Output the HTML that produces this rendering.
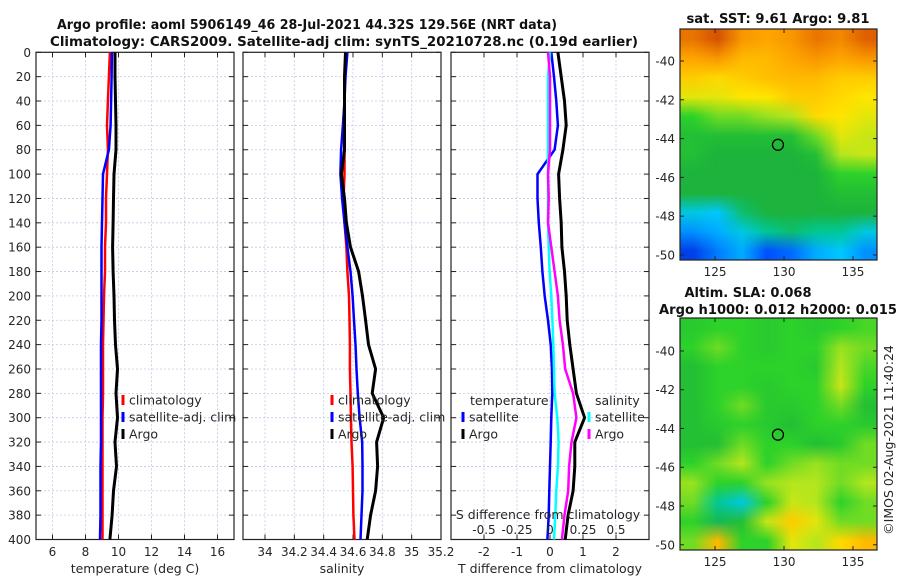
<!DOCTYPE html>
<html><head><meta charset="utf-8">
<style>
body{margin:0;background:#fff;width:900px;height:580px;overflow:hidden;position:relative;font-family:"DejaVu Sans","Liberation Sans",sans-serif;}
svg{position:absolute;left:0;top:0}
canvas{position:absolute;image-rendering:auto}
</style></head>
<body>
<canvas id="sst" width="8" height="12" style="left:680px;top:29px;width:197px;height:231px"></canvas>
<canvas id="sla" width="8" height="12" style="left:680px;top:318px;width:197px;height:232px"></canvas>
<svg id="chart" width="900" height="580"></svg>
<script>
const depths=[0,20,40,60,80,100,120,140,160,180,200,220,240,260,280,300,320,340,360,380,400];
const tempClim=[9.48,9.42,9.36,9.30,9.36,9.30,9.24,9.24,9.18,9.18,9.12,9.09,9.06,9.06,9.06,9.03,9.03,9.03,9.03,9.03,9.03];
const tempSat=[9.60,9.58,9.55,9.52,9.42,9.06,9.03,9.00,8.97,8.97,8.97,8.97,8.94,8.94,8.94,8.94,8.94,8.91,8.91,8.91,8.88];
const tempArgo=[9.79,9.79,9.82,9.85,9.85,9.73,9.70,9.67,9.64,9.67,9.73,9.76,9.82,9.94,9.85,9.94,9.79,9.88,9.70,9.61,9.48];
const salClim=[34.560,34.542,34.542,34.542,34.542,34.542,34.535,34.542,34.555,34.562,34.573,34.576,34.579,34.579,34.583,34.586,34.590,34.597,34.600,34.603,34.610];
const salSat=[34.562,34.549,34.542,34.531,34.519,34.514,34.526,34.542,34.562,34.583,34.597,34.607,34.617,34.624,34.633,34.645,34.663,34.665,34.665,34.658,34.651];
const salArgo=[34.549,34.542,34.542,34.542,34.542,34.521,34.542,34.555,34.583,34.638,34.665,34.686,34.706,34.754,34.731,34.809,34.761,34.768,34.754,34.720,34.697];
const tDiffSat=[0.04,0.12,0.19,0.24,0.14,-0.38,-0.38,-0.34,-0.28,-0.23,-0.16,-0.06,0.02,0.06,0.07,0.04,0.02,0.0,-0.02,-0.04,-0.08];
const tDiffArgo=[0.24,0.34,0.44,0.49,0.39,0.26,0.29,0.34,0.36,0.44,0.49,0.52,0.60,0.70,0.80,1.05,0.75,0.75,0.70,0.55,0.46];
const sDiffSat=[0,-0.015,-0.015,-0.015,-0.015,-0.015,-0.015,-0.015,-0.01,-0.003,0.01,0.018,0.025,0.03,0.035,0.055,0.065,0.06,0.048,0.04,0.03];
const sDiffArgo=[-0.015,0,0,0,0,-0.015,-0.01,-0.015,0.01,0.035,0.06,0.073,0.098,0.115,0.175,0.2,0.163,0.145,0.138,0.11,0.09];
const depthTicks=[0,20,40,60,80,100,120,140,160,180,200,220,240,260,280,300,320,340,360,380,400];
const tempTicks=[6,8,10,12,14,16];
const salTicks=[34,34.2,34.4,34.6,34.8,35,35.2];
const tDiffTicks=[-2,-1,0,1,2];
const sDiffTicks=[-0.5,-0.25,0,0.25,0.5];
const lonTicks=[125,130,135];
const latTicks=[-40,-42,-44,-46,-48,-50];
const argoLon=129.56, argoLat=-44.32;
const sstGrid=[
[0.85,0.9,0.8,0.78,0.8,0.85,0.82,0.88],
[0.78,0.8,0.75,0.75,0.78,0.8,0.78,0.8],
[0.72,0.7,0.72,0.74,0.75,0.75,0.72,0.72],
[0.65,0.65,0.68,0.68,0.72,0.72,0.7,0.68],
[0.5,0.55,0.55,0.58,0.6,0.7,0.68,0.65],
[0.45,0.45,0.45,0.45,0.45,0.55,0.65,0.62],
[0.45,0.42,0.42,0.42,0.42,0.45,0.6,0.62],
[0.42,0.42,0.42,0.42,0.42,0.42,0.5,0.5],
[0.42,0.42,0.42,0.42,0.42,0.42,0.45,0.45],
[0.3,0.28,0.38,0.42,0.42,0.42,0.42,0.42],
[0.22,0.25,0.3,0.35,0.38,0.35,0.35,0.3],
[0.12,0.2,0.25,0.15,0.18,0.25,0.28,0.22]];
const slaGrid=[
[0.48,0.5,0.5,0.48,0.5,0.48,0.5,0.52],
[0.5,0.55,0.5,0.48,0.5,0.5,0.58,0.55],
[0.45,0.5,0.5,0.5,0.5,0.48,0.6,0.52],
[0.45,0.5,0.5,0.48,0.5,0.5,0.62,0.5],
[0.45,0.5,0.55,0.48,0.48,0.5,0.55,0.45],
[0.45,0.48,0.5,0.48,0.45,0.5,0.5,0.48],
[0.45,0.45,0.55,0.5,0.5,0.45,0.48,0.55],
[0.5,0.55,0.6,0.5,0.55,0.58,0.55,0.55],
[0.58,0.5,0.5,0.58,0.6,0.6,0.55,0.6],
[0.55,0.35,0.3,0.5,0.62,0.6,0.5,0.55],
[0.5,0.4,0.45,0.62,0.72,0.65,0.55,0.55],
[0.55,0.75,0.5,0.5,0.65,0.6,0.7,0.75]];

const NS="http://www.w3.org/2000/svg";
const svg=document.getElementById('chart');
function el(tag,attrs,parent,text){const e=document.createElementNS(NS,tag);for(const k in attrs)e.setAttribute(k,attrs[k]);if(text!==undefined)e.textContent=text;(parent||svg).appendChild(e);return e;}
const Y0=52.3,Y1=539.5;
const yD=d=>Y0+(d/400)*(Y1-Y0);
function lin(d0,d1,r0,r1){return v=>r0+(v-d0)/(d1-d0)*(r1-r0);}
const panels=[
 {x0:36,x1:234,dom:[5,17],ticks:tempTicks,name:'temperature-panel',label:'temperature (deg C)'},
 {x0:243,x1:441,dom:[33.85,35.2],ticks:salTicks,name:'salinity-panel',label:'salinity'},
 {x0:451,x1:649,dom:[-3,3],ticks:tDiffTicks,name:'difference-panel',label:'T difference from climatology'}];
panels.forEach((p,i)=>{
 p.sx=lin(p.dom[0],p.dom[1],p.x0,p.x1);
 const g=el('g',{});
 
 
 depthTicks.forEach(d=>{
  el('line',{x1:p.x0,x2:p.x1,y1:yD(d),y2:yD(d),stroke:'#c4c8e8','stroke-width':0.8,'stroke-dasharray':'2,2'},g);
  el('line',{x1:p.x0,x2:p.x0+5,y1:yD(d),y2:yD(d),stroke:'#222'},g);
  el('line',{x1:p.x1-5,x2:p.x1,y1:yD(d),y2:yD(d),stroke:'#222'},g);
  if(i===0){const t=el('text',{x:31,y:yD(d)+4.5,'text-anchor':'end','font-size':12,fill:'#262626'},g,String(d));}
 });
 p.ticks.forEach(v=>{
  const x=p.sx(v);
  el('line',{x1:x,x2:x,y1:Y0,y2:Y1,stroke:'#c4c8e8','stroke-width':0.8,'stroke-dasharray':'2,2'},g);
  el('line',{x1:x,x2:x,y1:Y1-5,y2:Y1,stroke:'#222'},g);
  el('line',{x1:x,x2:x,y1:Y0,y2:Y0+5,stroke:'#222'},g);
  const t=el('text',{x:x,y:556,'text-anchor':'middle','font-size':12,fill:'#262626'},g,String(v));
  
 });
 el('rect',{x:p.x0,y:Y0,width:p.x1-p.x0,height:Y1-Y0,fill:'none',stroke:'#222','stroke-width':1.2},g);
 const xl=el('text',{x:(p.x0+p.x1)/2,y:573,'text-anchor':'middle','font-size':12.5,fill:'#262626'},g,p.label);
 
});
function line(vals,sx,color,w,name){
 const pts=vals.map((v,k)=>sx(v).toFixed(1)+','+yD(depths[k]).toFixed(1)).join(' ');
 const l=el('polyline',{points:pts,fill:'none',stroke:color,'stroke-width':w,'stroke-linejoin':'round'});
 
}
const sT=panels[0].sx,sS=panels[1].sx,sD=panels[2].sx;
const sDS=lin(-0.75,0.75,451,649);
line(tempClim,sT,'#f00',2.5,'temp-climatology-line');
line(tempSat,sT,'#00f',2.5,'temp-satellite-line');
line(tempArgo,sT,'#000',3,'temp-argo-line');
line(salClim,sS,'#f00',2.5,'sal-climatology-line');
line(salSat,sS,'#00f',2.5,'sal-satellite-line');
line(salArgo,sS,'#000',3,'sal-argo-line');
line(tDiffSat,sD,'#00f',2.5,'tdiff-satellite-line');
line(sDiffSat,sDS,'#0ff',2.5,'sdiff-satellite-line');
line(sDiffArgo,sDS,'#f0f',2.5,'sdiff-argo-line');
line(tDiffArgo,sD,'#000',3,'tdiff-argo-line');
const st=el('text',{x:548,y:519,'text-anchor':'middle','font-size':12.5,fill:'#262626'},svg,'S difference from climatology');

sDiffTicks.forEach(v=>{const t=el('text',{x:sDS(v),y:534,'text-anchor':'middle','font-size':12,fill:'#262626'},svg,String(v));});
function legend(x,y,color,label,name){
 const g=el('g',{});
 el('line',{x1:x,x2:x,y1:y-5,y2:y+5,stroke:color,'stroke-width':3},g);
 el('text',{x:x+6,y:y+4.5,'font-size':12.5,fill:'#262626'},g,label);
}
legend(123,400,'#f00','climatology','legend-climatology');
legend(123,417,'#00f','satellite-adj. clim','legend-satellite-adj');
legend(123,434,'#000','Argo','legend-argo');
legend(332,400,'#f00','climatology','legend-climatology-2');
legend(332,417,'#00f','satellite-adj. clim','legend-satellite-adj-2');
legend(332,434,'#000','Argo','legend-argo-2');
let th=el('text',{x:470,y:405,'font-size':12.5,fill:'#262626'},svg,'temperature');
legend(463,417,'#00f','satellite','legend-t-satellite');
legend(463,434,'#000','Argo','legend-t-argo');
th=el('text',{x:595,y:405,'font-size':12.5,fill:'#262626'},svg,'salinity');
legend(589,417,'#0ff','satellite','legend-s-satellite');
legend(589,434,'#f0f','Argo','legend-s-argo');
function txt(x,y,s,name,len){const t=el('text',{x:x,y:y,'text-anchor':'middle','font-size':13,'font-weight':'bold',fill:'#111',textLength:len,lengthAdjust:'spacingAndGlyphs'},svg,s);return t;}
txt(307,29,'Argo profile: aoml 5906149_46 28-Jul-2021 44.32S 129.56E (NRT data)','title-line-1',500);
txt(344,46,'Climatology: CARS2009. Satellite-adj clim: synTS_20210728.nc (0.19d earlier)','title-line-2',588);
txt(778,23,'sat. SST: 9.61 Argo: 9.81','sst-map-title',183);
txt(748,297,'Altim. SLA: 0.068','sla-map-title',127);
txt(778,314,'Argo h1000: 0.012 h2000: 0.015','sla-map-subtitle',238);
const cr=el('text',{x:0,y:0,'text-anchor':'middle','font-size':12.5,fill:'#262626',transform:'translate(893,440) rotate(-90)'},svg,'©IMOS 02-Aug-2021 11:40:24');

const stops=[[0,[0,0,143]],[0.15,[0,80,255]],[0.28,[0,200,255]],[0.35,[0,200,150]],[0.42,[29,179,60]],[0.5,[45,210,42]],[0.6,[180,230,30]],[0.68,[255,230,0]],[0.78,[255,165,0]],[0.88,[224,96,0]],[1,[160,16,16]]];
function cmap(v){for(let i=1;i<stops.length;i++){if(v<=stops[i][0]){const a=stops[i-1],b=stops[i],f=(v-a[0])/(b[0]-a[0]);return a[1].map((c,k)=>Math.round(c+(b[1][k]-c)*f));}}return stops[stops.length-1][1];}
function drawGrid(id,grid){const c=document.getElementById(id).getContext('2d');grid.forEach((row,r)=>row.forEach((v,k)=>{const col=cmap(v);c.fillStyle='rgb('+col.join(',')+')';c.fillRect(k,r,1,1);}));}
drawGrid('sst',sstGrid);drawGrid('sla',slaGrid);
const maps=[{x0:680,x1:877,y0:29,y1:260,lat0:-38.35,lat1:-50.26,name:'sst-map-axes'},{x0:680,x1:877,y0:318,y1:550,lat0:-38.3,lat1:-50.27,name:'sla-map-axes'}];
maps.forEach(m=>{
 const sx=lin(122.46,136.74,m.x0,m.x1),sy=lin(m.lat0,m.lat1,m.y0,m.y1);
 const g=el('g',{});
 el('rect',{x:m.x0,y:m.y0,width:m.x1-m.x0,height:m.y1-m.y0,fill:'none',stroke:'#222','stroke-width':1.2},g);
 lonTicks.forEach(v=>{el('line',{x1:sx(v),x2:sx(v),y1:m.y1-4,y2:m.y1,stroke:'#222'},g);el('line',{x1:sx(v),x2:sx(v),y1:m.y0,y2:m.y0+4,stroke:'#222'},g);const t=el('text',{x:sx(v),y:m.y1+16,'text-anchor':'middle','font-size':12,fill:'#262626'},g,String(v));});
 latTicks.forEach(v=>{el('line',{x1:m.x0,x2:m.x0+4,y1:sy(v),y2:sy(v),stroke:'#222'},g);el('line',{x1:m.x1-4,x2:m.x1,y1:sy(v),y2:sy(v),stroke:'#222'},g);const t=el('text',{x:m.x0-5,y:sy(v)+4.5,'text-anchor':'end','font-size':12,fill:'#262626'},g,String(v));});
 const c=el('circle',{cx:sx(argoLon),cy:sy(argoLat),r:5.5,fill:'none',stroke:'#000','stroke-width':1.3},g);
 
});
</script>
</body></html>
